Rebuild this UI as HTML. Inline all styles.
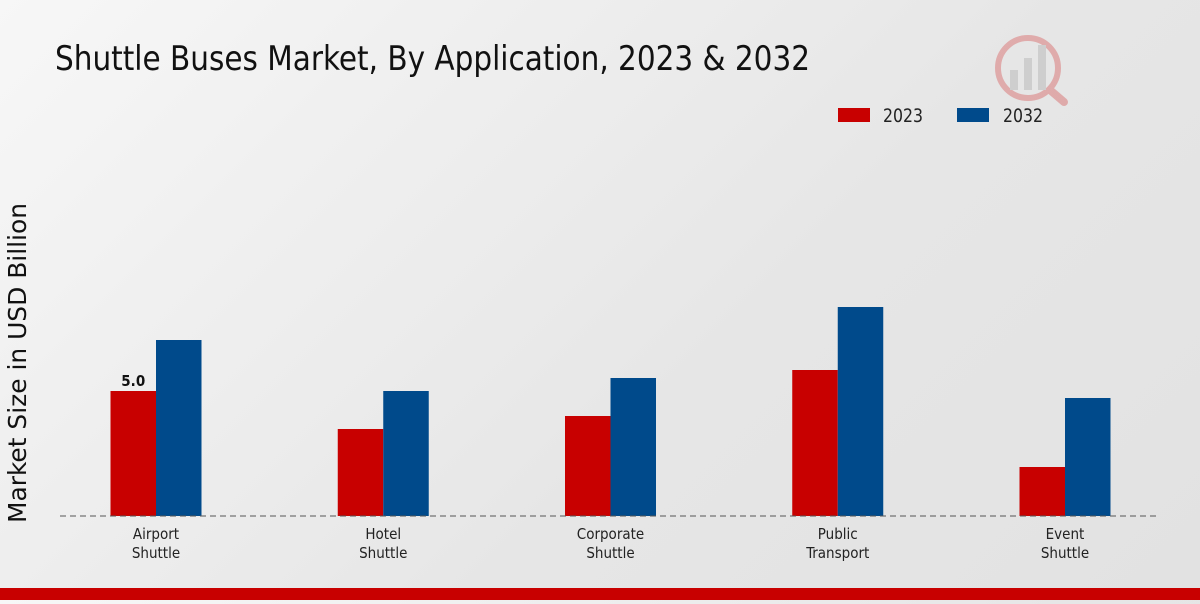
<!DOCTYPE html>
<html><head><meta charset="utf-8"><style>
html,body{margin:0;padding:0;}
body{width:1200px;height:600px;overflow:hidden;background:linear-gradient(135deg,#f7f7f7 0%,#e6e6e6 60%,#e2e2e2 100%);font-family:"DejaVu Sans Condensed","Liberation Sans Narrow","DejaVu Sans",sans-serif;}
svg text{font-family:"DejaVu Sans Condensed","Liberation Sans Narrow","DejaVu Sans",sans-serif;}
</style></head><body>
<svg id="chart" width="1200" height="600">
<text x="55" y="70" font-size="34" textLength="755" lengthAdjust="spacingAndGlyphs" fill="#111">Shuttle Buses Market, By Application, 2023 &amp; 2032</text>
<g opacity="0.25">
<circle cx="1028" cy="68" r="30" fill="none" stroke="#c00" stroke-width="6"/>
<rect x="1010" y="70" width="8" height="20" fill="#888"/><rect x="1024" y="58" width="8" height="32" fill="#888"/><rect x="1038" y="45" width="8" height="45" fill="#888"/>
<line x1="1050" y1="90" x2="1064" y2="102" stroke="#c00" stroke-width="8" stroke-linecap="round"/>
</g>
<g>
<rect x="838" y="108" width="32" height="14" fill="#c80000"/>
<text x="883" y="122" font-size="19" textLength="40" lengthAdjust="spacingAndGlyphs" fill="#222">2023</text>
<rect x="957" y="108" width="32" height="14" fill="#004a8b"/>
<text x="1003" y="122" font-size="19" textLength="40" lengthAdjust="spacingAndGlyphs" fill="#222">2032</text>
</g>
<text transform="translate(26,363) rotate(-90)" text-anchor="middle" font-size="25" textLength="320" lengthAdjust="spacingAndGlyphs" fill="#111">Market Size in USD Billion</text>
<g id="bars"></g>
<line x1="60" y1="516" x2="1160" y2="516" stroke="#555" stroke-width="1" stroke-dasharray="6,4"/>
<g id="labels"></g>
<rect x="0" y="588" width="1200" height="12" fill="#c80000"/>
</svg>
<script>
const categories = [["Airport","Shuttle"],["Hotel","Shuttle"],["Corporate","Shuttle"],["Public","Transport"],["Event","Shuttle"]];
const values2023 = [5.0, 3.48, 4.0, 5.84, 1.96];
const values2032 = [7.04, 5.0, 5.52, 8.36, 4.72];
const shownLabels = ["5.0", null, null, null, null];
const NS="http://www.w3.org/2000/svg";
const baseY=516, pxPerUnit=25, x0=156, step=227.25, bw=45.5;
const yScale=v=>baseY-v*pxPerUnit;
const xCenter=i=>x0+i*step;
const bars=document.getElementById('bars'), labels=document.getElementById('labels');
function mk(tag,attrs){const e=document.createElementNS(NS,tag);for(const k in attrs)e.setAttribute(k,attrs[k]);return e;}
categories.forEach((c,i)=>{
  const cx=xCenter(i);
  const r=mk('rect',{x:cx-bw,y:yScale(values2023[i]),width:bw,height:baseY-yScale(values2023[i]),fill:'#c80000'});
  
  
  bars.appendChild(r);
  const b=mk('rect',{x:cx,y:yScale(values2032[i]),width:bw,height:baseY-yScale(values2032[i]),fill:'#004a8b'});
  
  
  bars.appendChild(b);
  if(shownLabels[i]){
    const t=mk('text',{x:cx-bw/2,y:yScale(values2023[i])-5,'text-anchor':'middle','font-size':'15','font-weight':'bold',fill:'#111'});
    t.textContent=shownLabels[i];
    
    
    labels.appendChild(t);
  }
  c.forEach((line,j)=>{
    const t=mk('text',{x:cx,y:539+j*19,'text-anchor':'middle','font-size':'15',fill:'#222'});
    t.textContent=line;
    
    
    labels.appendChild(t);
  });
});
</script>
</body></html>
